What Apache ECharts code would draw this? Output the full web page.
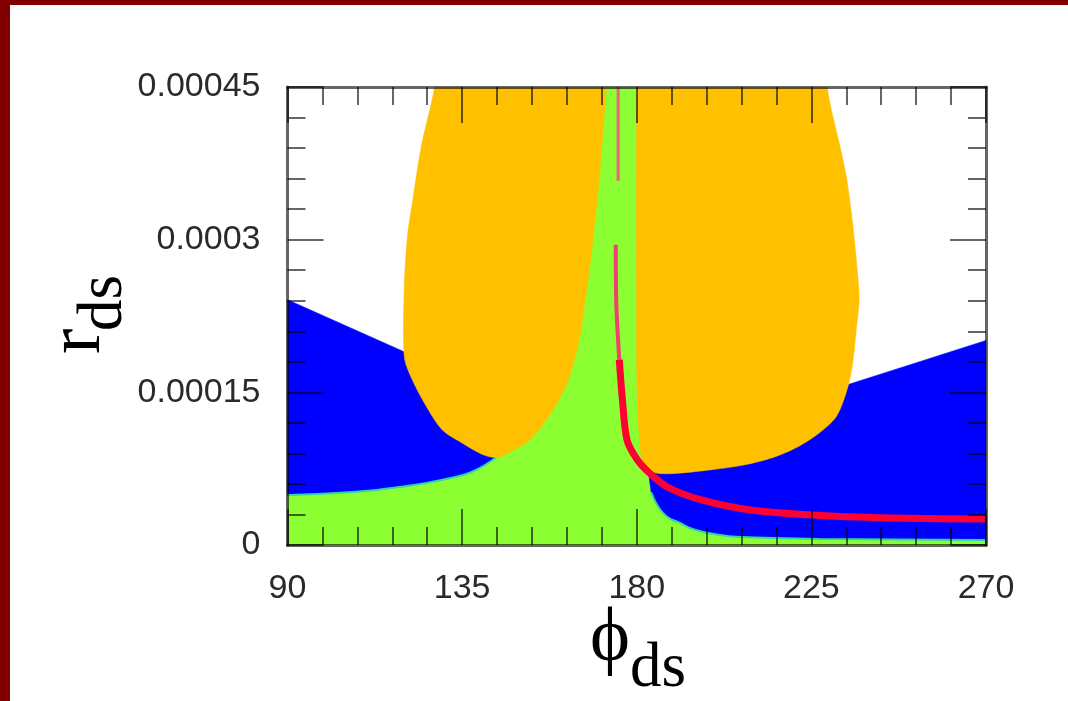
<!DOCTYPE html>
<html><head><meta charset="utf-8">
<script src="https://cdn.jsdelivr.net/npm/echarts@6/dist/echarts.min.js"></script>
<style>html,body{margin:0;padding:0;background:#fff}#c{width:1068px;height:701px}</style>
</head><body><div id="c"></div>
<script>
// y values below are given in units of 1e-5
const E5 = 1e-5;
const xTickLabels = ['90', '135', '180', '225', '270'];
const yTickLabels = ['0', '0.00015', '0.0003', '0.00045'];

const greenRegion = [[90,0],[270,0],[270,0.5],[227,0.6],[205.6,0.8],[201,1.0],[196.9,1.3],[193.5,1.7],[191,2.2],[188.5,2.6],[186.6,3.2],[185,4.1],[183.7,5.2],[182,8.4],[181,12],[181,45],[170,45],[155,12],[143.8,8.6],[140.2,7.7],[137,7.1],[133.5,6.7],[125.8,6.1],[119,5.7],[112.9,5.4],[102.6,5.1],[90,4.9]];
const blueLeft = [[90,24.1],[120.6,18.9],[143.8,8.6],[140.2,7.7],[137,7.1],[133.5,6.7],[125.8,6.1],[119,5.7],[112.9,5.4],[102.6,5.1],[90,4.9]];
const blueRight = [[182.8,7.6],[234.7,15.8],[270,20.1],[270,0.5],[227,0.6],[205.6,0.8],[201,1.0],[196.9,1.3],[193.5,1.7],[191,2.2],[188.5,2.6],[186.6,3.2],[185,4.1],[183.7,5.2]];
const orangeLeft = [[129.1,50],[127.9,45],[124.5,39.2],[122.2,33.7],[120.9,30.3],[120.1,25.4],[120.1,18.5],[122.2,16.2],[125.8,13.6],[129.9,11.3],[135.1,10.0],[140.2,8.9],[143.8,8.6],[147.2,9.1],[152.3,10.3],[156.7,12.3],[160.0,14.3],[162.6,16.5],[165.2,20.2],[166.5,23.4],[168.5,29.3],[170.3,35.9],[171.6,42.1],[172.1,45],[172.3,50]];
const orangeRight = [[179.9,50],[179.9,45],[179.9,24.1],[180.1,14.3],[180.6,11.0],[181.4,8.4],[184.0,7.2],[188.4,7.0],[199.4,7.4],[208.2,7.9],[215.9,8.7],[221.8,9.7],[227.0,11.0],[231.4,12.6],[234.0,15.0],[235.5,17.5],[236.5,20.9],[237.3,24.1],[236.8,27.1],[235.5,32.0],[234.0,36.2],[232.1,39.6],[230.3,42.5],[229.1,45],[228.5,50]];
const redUpper = [[175.2,45],[175.2,35.8]];
const redMiddle = [[174.6,29.5],[174.7,24.1],[175.5,18.2]];
const redLower = [[175.5,18.2],[176.3,14.3],[177.5,10.3],[180.1,8.4],[183.2,7.1],[187.9,5.7],[196.9,4.4],[210.3,3.4],[236.5,2.76],[270,2.56]];
const edgeLeft = [[90,4.9],[102.6,5.1],[112.9,5.4],[119,5.7],[125.8,6.1],[133.5,6.7],[137,7.1],[140.2,7.7],[143.8,8.6]];
const edgeRight = [[183.7,5.2],[185,4.1],[186.6,3.2],[188.5,2.6],[191,2.2],[193.5,1.7],[196.9,1.3],[201,1.0],[205.6,0.8],[227,0.6],[270,0.5]];

const toData = arr => arr.map(p => [p[0], p[1] * E5]);

function polySeries(name, pts, color, z, smooth) {
  const data = toData(pts);
  return {
    type: 'custom', name: name, z: z, silent: true, clip: true,
    data: data, encode: {x: 0, y: 1},
    renderItem: function (params, api) {
      if (params.dataIndex !== 0) return null;
      return {type: 'polygon', shape: {points: data.map(d => api.coord(d)), smooth: smooth || 0},
              style: {fill: color, stroke: color, lineWidth: 0.5}};
    }
  };
}
function lineSeries(name, pts, color, width, z) {
  return {type: 'line', name: name, z: z, silent: true, data: toData(pts),
          showSymbol: false, smooth: 0.3, lineStyle: {color: color, width: width}};
}

const axisCol = 'rgba(0,0,0,0.6)';
const labelFont = {fontFamily: 'Liberation Sans', fontSize: 34, color: '#2a2a2a'};
function xAx(pos, showLabel) {
  return {type: 'value', position: pos, min: 90, max: 270, interval: 45, z: 10,
    axisLine: {show: true, onZero: false, lineStyle: {color: axisCol, width: 3}},
    axisTick: {show: true, inside: true, length: 36, lineStyle: {color: axisCol, width: 2}},
    minorTick: {show: true, splitNumber: 5, length: 18, lineStyle: {color: axisCol, width: 2}},
    splitLine: {show: false},
    axisLabel: Object.assign({show: showLabel, margin: 27,
      formatter: v => xTickLabels[Math.round((v - 90) / 45)]}, labelFont)};
}
function yAx(pos, showLabel) {
  return {type: 'value', position: pos, min: 0, max: 0.00045, interval: 0.00015, z: 10,
    axisLine: {show: true, onZero: false, lineStyle: {color: axisCol, width: 3}},
    axisTick: {show: true, inside: true, length: 36, lineStyle: {color: axisCol, width: 2}},
    minorTick: {show: true, splitNumber: 5, length: 18, lineStyle: {color: axisCol, width: 2}},
    splitLine: {show: false},
    axisLabel: Object.assign({show: showLabel, margin: 27,
      formatter: v => yTickLabels[Math.round(v / 0.00015)]}, labelFont)};
}

const chart = echarts.init(document.getElementById('c'), null, {renderer: 'canvas'});
chart.setOption({
  animation: false,
  backgroundColor: '#fff',
  grid: {left: 287.5, right: 82, top: 87, bottom: 156, containLabel: false},
  xAxis: [xAx('bottom', true), xAx('top', false)],
  yAxis: [yAx('left', true), yAx('right', false)],
  series: [
    polySeries('green', greenRegion, '#8cff33', 1),
    polySeries('blueL', blueLeft, '#0000ff', 2),
    polySeries('blueR', blueRight, '#0000ff', 2),
    lineSeries('edgeL', edgeLeft, '#30d8a0', 2, 2.5),
    lineSeries('edgeR', edgeRight, '#30d8a0', 2, 2.5),
    polySeries('orangeL', orangeLeft, '#ffc000', 3, 0.3),
    polySeries('orangeR', orangeRight, '#ffc000', 3, 0.3),
    lineSeries('redU', redUpper, '#f0607a', 3, 5),
    lineSeries('redM', redMiddle, '#f04070', 4, 5),
    lineSeries('redL', redLower, '#ff0033', 7, 5)
  ],
  graphic: [
    {type: 'rect', shape: {x: 0, y: 0, width: 1068, height: 5}, style: {fill: '#800000'}, z: 100},
    {type: 'rect', shape: {x: 0, y: 0, width: 10, height: 701}, style: {fill: '#800000'}, z: 100},
    {type: 'text', x: 590, y: 640, z: 100,
      style: {text: 'ϕ', fontFamily: 'Liberation Serif', fontSize: 76, fill: '#000', align: 'left', verticalAlign: 'middle', textAlign: 'left', textVerticalAlign: 'middle'}},
    {type: 'text', x: 630, y: 669, z: 100,
      style: {text: 'ds', fontFamily: 'Liberation Serif', fontSize: 63, fill: '#000', align: 'left', verticalAlign: 'middle', textAlign: 'left', textVerticalAlign: 'middle'}},
    {type: 'text', x: 79, y: 354, rotation: Math.PI / 2, z: 100,
      style: {text: 'r', fontFamily: 'Liberation Serif', fontSize: 76, fill: '#000', align: 'left', verticalAlign: 'middle', textAlign: 'left', textVerticalAlign: 'middle'}},
    {type: 'text', x: 104, y: 331, rotation: Math.PI / 2, z: 100,
      style: {text: 'ds', fontFamily: 'Liberation Serif', fontSize: 63, fill: '#000', align: 'left', verticalAlign: 'middle', textAlign: 'left', textVerticalAlign: 'middle'}}
  ]
});
</script></body></html>
